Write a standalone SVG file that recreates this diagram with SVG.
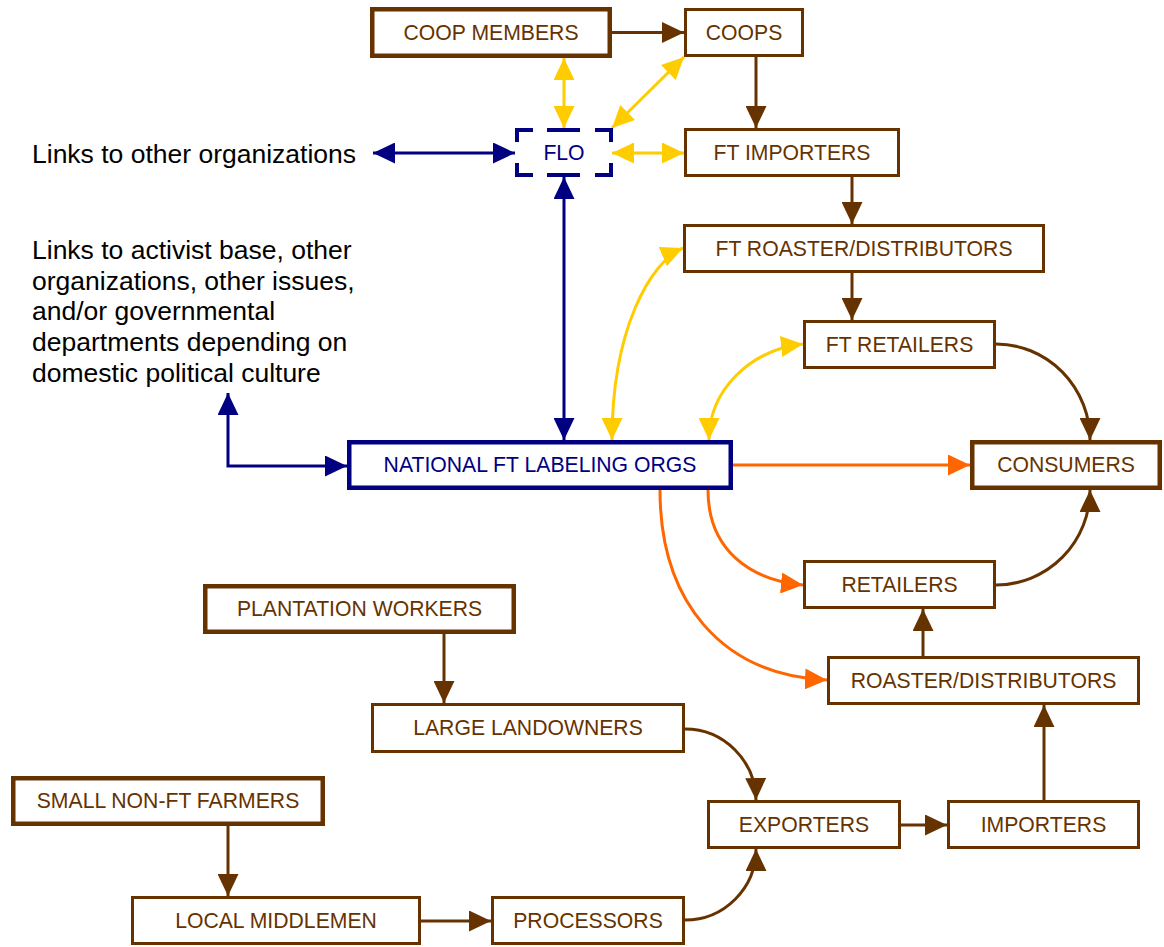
<svg xmlns="http://www.w3.org/2000/svg" width="1164" height="947" viewBox="0 0 1164 947">
<style>
.bx{fill:#fff;stroke:#663300;stroke-width:3}
.bxk{fill:#fff;stroke:#663300;stroke-width:4.5}
.bxb{fill:#fff;stroke:#000080;stroke-width:4.5}
.t{font-family:"Liberation Sans",Arial,sans-serif;font-size:21.2px;fill:#663300;text-anchor:middle}
.tb{fill:#000080}
.free{font-family:"Liberation Sans",Arial,sans-serif;font-size:26.5px;fill:#000}
.br{fill:none;stroke:#663300;stroke-width:3;marker-end:url(#mBr)}
.bl{fill:none;stroke:#000080;stroke-width:3;marker-end:url(#mBl);marker-start:url(#mBl)}
.ye{fill:none;stroke:#FFCC00;stroke-width:3;marker-end:url(#mYe);marker-start:url(#mYe)}
.or{fill:none;stroke:#FF6600;stroke-width:3;marker-end:url(#mOr)}
.dash{fill:none;stroke:#000080;stroke-width:4}
</style>
<defs>
<marker id="mBr" markerUnits="userSpaceOnUse" markerWidth="22" markerHeight="21" refX="22" refY="10.5" orient="auto-start-reverse"><path d="M0,0 L22,10.5 L0,21 Z" fill="#663300"/></marker>
<marker id="mBl" markerUnits="userSpaceOnUse" markerWidth="22" markerHeight="21" refX="22" refY="10.5" orient="auto-start-reverse"><path d="M0,0 L22,10.5 L0,21 Z" fill="#000080"/></marker>
<marker id="mYe" markerUnits="userSpaceOnUse" markerWidth="22" markerHeight="21" refX="22" refY="10.5" orient="auto-start-reverse"><path d="M0,0 L22,10.5 L0,21 Z" fill="#FFCC00"/></marker>
<marker id="mOr" markerUnits="userSpaceOnUse" markerWidth="22" markerHeight="21" refX="22" refY="10.5" orient="auto-start-reverse"><path d="M0,0 L22,10.5 L0,21 Z" fill="#FF6600"/></marker>
</defs>
<rect width="1164" height="947" fill="#fff"/>

<g id="connectors">
<path class="br" d="M612,32.5 L684,32.5"/>
<path class="br" d="M756,57 L756,128"/>
<path class="br" d="M852,177 L852,224"/>
<path class="br" d="M852,273 L852,320"/>
<path class="br" d="M996,344 A94,96 0 0 1 1090,440"/>
<path class="br" d="M996,585 A94,95 0 0 0 1090,490"/>
<path class="br" d="M923,656 L923,609"/>
<path class="br" d="M1044,800 L1044,705"/>
<path class="br" d="M901,825 L947,825"/>
<path class="br" d="M685,729 A71,72 0 0 1 756,800"/>
<path class="br" d="M685,920 A71,71 0 0 0 756,849"/>
<path class="br" d="M444,634 L444,703"/>
<path class="br" d="M228,826 L228,896"/>
<path class="br" d="M421,921 L491,921"/>
<path class="bl" d="M373,153 L515,153"/>
<path class="bl" d="M564,177 L564,440"/>
<path class="bl" d="M347,466 L228,466 L228,393"/>
<path class="ye" d="M564,58 L564,128"/>
<path class="ye" d="M684,57 L612,128"/>
<path class="ye" d="M612,153 L684,153"/>
<path class="ye" d="M612,440 C612,330 650,262 683,248"/>
<path class="ye" d="M709,440 C709,390 750,350 803,344"/>
<path class="or" d="M733,465 L970,465"/>
<path class="or" d="M708,490 C708,550 750,580 803,585"/>
<path class="or" d="M660,490 C660,600 720,675 827,680"/>
</g>

<g id="coop-members"><rect class="bxk" x="372.25" y="9.25" width="237.5" height="46.5"/><text class="t" x="491" y="39.5">COOP MEMBERS</text></g>
<g id="coops"><rect class="bx" x="685.5" y="9.5" width="117" height="46"/><text class="t" x="744" y="39.5">COOPS</text></g>
<g id="flo"><rect x="517" y="130" width="94" height="45" fill="#fff"/>
<path class="dash" d="M533,130 L517,130 L517,142 M547,130 L580,130 M595,130 L611,130 L611,142 M517,163 L517,175 L533,175 M547,175 L580,175 M595,175 L611,175 L611,163"/>
<text class="t tb" x="564" y="159.5">FLO</text></g>
<g id="ft-importers"><rect class="bx" x="685.5" y="129.5" width="213" height="46"/><text class="t" x="792" y="159.5">FT IMPORTERS</text></g>
<g id="ft-roaster"><rect class="bx" x="684.5" y="225.5" width="359" height="46"/><text class="t" x="864" y="255.5">FT ROASTER/DISTRIBUTORS</text></g>
<g id="ft-retailers"><rect class="bx" x="804.5" y="321.5" width="190" height="46"/><text class="t" x="899.5" y="351.5">FT RETAILERS</text></g>
<g id="national"><rect class="bxb" x="349.25" y="442.25" width="381.5" height="45.5"/><text class="t tb" x="540" y="472">NATIONAL FT LABELING ORGS</text></g>
<g id="consumers"><rect class="bxk" x="972.25" y="442.25" width="187.5" height="45.5"/><text class="t" x="1066" y="472">CONSUMERS</text></g>
<g id="retailers"><rect class="bx" x="804.5" y="561.5" width="190" height="46"/><text class="t" x="899.5" y="591.5">RETAILERS</text></g>
<g id="roaster"><rect class="bx" x="828.5" y="657.5" width="310" height="46"/><text class="t" x="983.5" y="687.5">ROASTER/DISTRIBUTORS</text></g>
<g id="plantation-workers"><rect class="bxk" x="205.25" y="586.25" width="308.5" height="45.5"/><text class="t" x="359.5" y="616">PLANTATION WORKERS</text></g>
<g id="large-landowners"><rect class="bx" x="372.5" y="704.5" width="311" height="47"/><text class="t" x="528" y="735">LARGE LANDOWNERS</text></g>
<g id="small-farmers"><rect class="bxk" x="13.25" y="778.25" width="309.5" height="45.5"/><text class="t" x="168" y="808">SMALL NON-FT FARMERS</text></g>
<g id="exporters"><rect class="bx" x="708.5" y="801.5" width="191" height="46"/><text class="t" x="804" y="831.5">EXPORTERS</text></g>
<g id="importers"><rect class="bx" x="948.5" y="801.5" width="190" height="46"/><text class="t" x="1043.5" y="831.5">IMPORTERS</text></g>
<g id="local-middlemen"><rect class="bx" x="132.5" y="897.5" width="287" height="46"/><text class="t" x="276" y="927.5">LOCAL MIDDLEMEN</text></g>
<g id="processors"><rect class="bx" x="492.5" y="897.5" width="191" height="46"/><text class="t" x="588" y="927.5">PROCESSORS</text></g>

<g id="labels">
<text class="free" x="32" y="163">Links to other organizations</text>
<text class="free" x="32" y="259">Links to activist base, other<tspan x="32" dy="30.7">organizations, other issues,</tspan><tspan x="32" dy="30.7">and/or governmental</tspan><tspan x="32" dy="30.7">departments depending on</tspan><tspan x="32" dy="30.7">domestic political culture</tspan></text>
</g>
</svg>
